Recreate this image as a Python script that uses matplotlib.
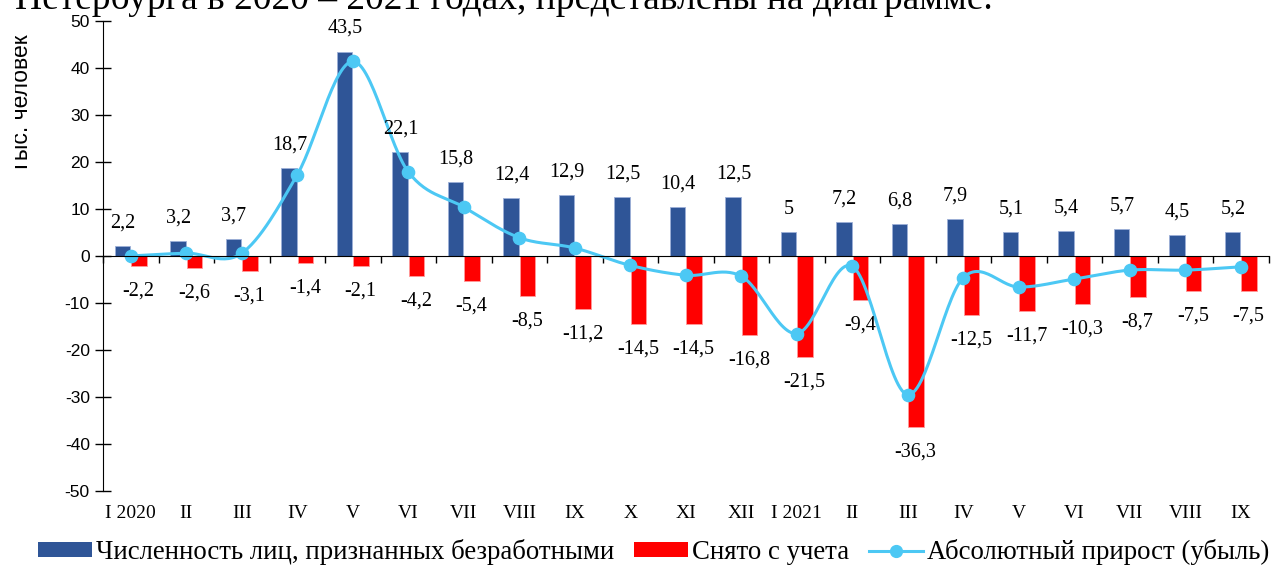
import numpy as np
import matplotlib
matplotlib.use("Agg")
import matplotlib.pyplot as plt
import matplotlib.transforms as mtransforms
from matplotlib.patches import Patch
from matplotlib.lines import Line2D

plt.rcParams["axes.unicode_minus"] = False

# data, thousand persons
months = ["I 2020", "II", "III", "IV", "V", "VI", "VII", "VIII", "IX", "X", "XI", "XII",
          "I 2021", "II", "III", "IV", "V", "VI", "VII", "VIII", "IX"]
registered = [2.2, 3.2, 3.7, 18.7, 43.5, 22.1, 15.8, 12.4, 12.9, 12.5, 10.4, 12.5,
              5, 7.2, 6.8, 7.9, 5.1, 5.4, 5.7, 4.5, 5.2]
removed = [-2.2, -2.6, -3.1, -1.4, -2.1, -4.2, -5.4, -8.5, -11.2, -14.5, -14.5, -16.8,
           -21.5, -9.4, -36.3, -12.5, -11.7, -10.3, -8.7, -7.5, -7.5]
growth = [0.0, 0.6, 0.6, 17.3, 41.4, 17.9, 10.4, 3.9, 1.7, -2.0, -4.1, -4.3,
          -16.5, -2.2, -29.5, -4.6, -6.6, -4.9, -3.0, -3.0, -2.3]

BLUE = "#2F5597"
RED = "#FF0000"
CYAN = "#4CC8F4"
SERIF = "Liberation Serif"
SANS = "Liberation Sans"


def fmt(v):
    return ("%g" % v).replace(".", ",")


def smooth(xs, ys, n=30):
    # bezier smoothing like the office "smoothed line"
    pts = np.column_stack([xs, ys]).astype(float)
    out = []
    for i in range(len(pts) - 1):
        p0 = pts[i - 1] if i > 0 else pts[i]
        p1 = pts[i]
        p2 = pts[i + 1]
        p3 = pts[i + 2] if i + 2 < len(pts) else pts[i + 1]
        c1 = p1 + (p2 - p0) / 6.0
        c2 = p2 - (p3 - p1) / 6.0
        t = np.linspace(0, 1, n)[:, None]
        seg = ((1 - t) ** 3) * p1 + 3 * ((1 - t) ** 2) * t * c1 + 3 * (1 - t) * t ** 2 * c2 + t ** 3 * p2
        out.append(seg if i == 0 else seg[1:])
    out = np.vstack(out)
    return out[:, 0], out[:, 1]


fig = plt.figure(figsize=(12.72, 5.67), dpi=100)
ax = fig.add_axes([0.081, 0.134, 0.9163, 0.829])

x = np.arange(len(months))
w = 0.28
ax.bar(x - w / 2 - 0.01, registered, w, color=BLUE, edgecolor="#9DB0D8", linewidth=0.6, zorder=2)
ax.bar(x + w / 2 + 0.01, removed, w, color=RED, edgecolor="#FF9A9A", linewidth=0.6, zorder=2)

sx, sy = smooth(x, growth)
ax.plot(sx, sy, color=CYAN, lw=2.2, zorder=3)
ax.plot(x, growth, "o", color=CYAN, ms=8.8, zorder=4)

# value labels
for i, v in enumerate(registered):
    ax.annotate(fmt(v), (x[i] - w / 2, v), xytext=(0, 23), textcoords="offset pixels",
                ha="center", va="center", fontsize=14.5, family=SERIF)
for i, v in enumerate(removed):
    ax.annotate(fmt(v), (x[i] + w / 2, v), xytext=(0, -25), textcoords="offset pixels",
                ha="center", va="center", fontsize=14.5, family=SERIF)

ax.set_xlim(-0.5, len(months) - 0.5)
ax.set_ylim(-50, 50)
ax.set_yticks(np.arange(-50, 51, 10))
for lab in ax.get_yticklabels():
    lab.set_family(SANS)
ax.tick_params(axis="y", direction="inout", length=11, width=1, labelsize=12.5, pad=4)

ax.spines["top"].set_visible(False)
ax.spines["right"].set_visible(False)
ax.spines["bottom"].set_position(("data", 0))
ax.spines["bottom"].set_zorder(5)
ax.set_xticks(np.arange(-0.5, len(months), 1.0))
ax.set_xticklabels([])
ax.tick_params(axis="x", direction="out", length=5, width=1)

trans = mtransforms.blended_transform_factory(ax.transData, ax.transAxes)
for i, m in enumerate(months):
    ax.text(x[i], -0.048, m, transform=trans, ha="center", va="center", fontsize=14, family=SERIF)

# axis title, its left side is cut off like in the source
ylab = fig.text(33 / 1272, 1 - 104 / 567, "Тыс. человек", rotation=90, ha="right", va="center",
                fontsize=16.5, family=SANS)
ylab.set_clip_box(mtransforms.Bbox.from_extents(15, 0, 1272, 567))
ylab.set_clip_on(True)

fig.text(15 / 1272, 1 - 9 / 567, "Петербурга в 2020 – 2021 годах, представлены на диаграмме.",
         ha="left", va="baseline", fontsize=27, family=SERIF)

handles = [Patch(facecolor=BLUE, edgecolor="none"),
           Patch(facecolor=RED, edgecolor="none"),
           Line2D([], [], color=CYAN, lw=2.2, marker="o", ms=8.5)]
labels = ["Численность лиц, признанных безработными", "Снято с учета", "Абсолютный прирост (убыль)"]
fig.legend(handles, labels, loc="center", bbox_to_anchor=(0.514, 0.026), ncol=3, frameon=False,
           prop={"family": SERIF, "size": 19.3}, handlelength=2.0, handleheight=0.5,
           handletextpad=0.15, columnspacing=0.75, borderpad=0, borderaxespad=0)

fig.savefig("out.png", dpi=100)
